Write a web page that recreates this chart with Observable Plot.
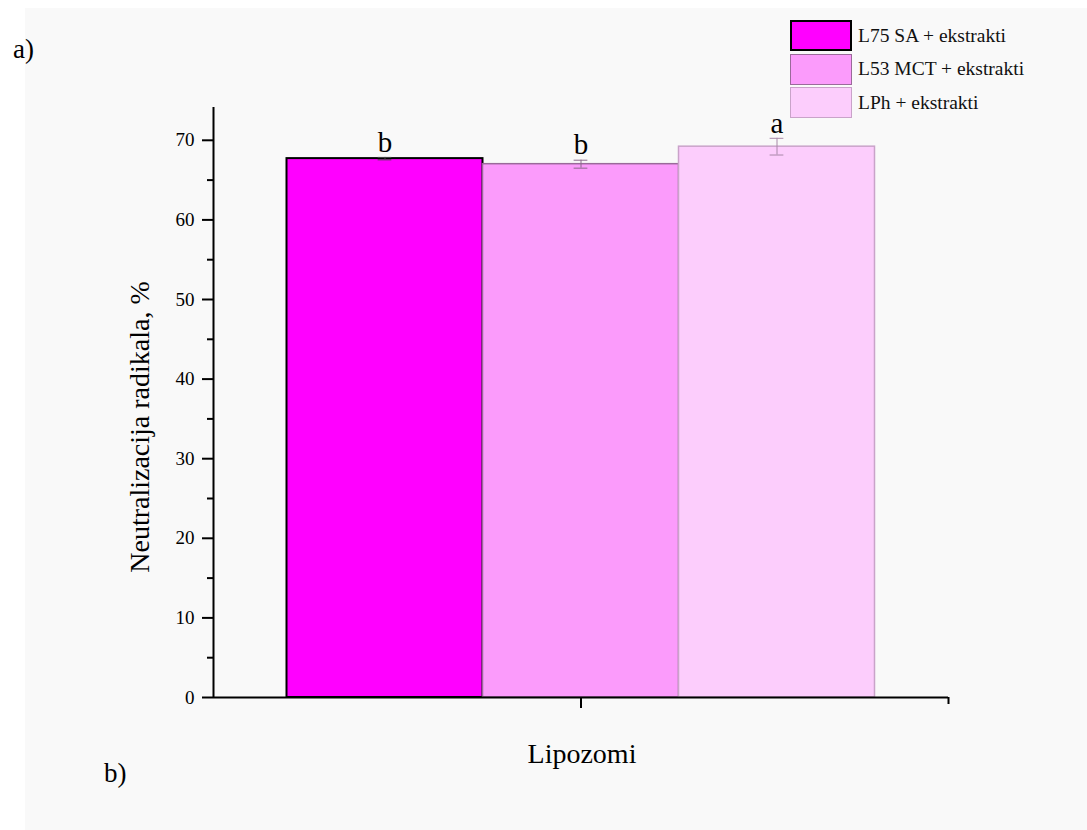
<!DOCTYPE html>
<html>
<head>
<meta charset="utf-8">
<script src="https://cdn.jsdelivr.net/npm/d3@7"></script>
<script src="https://cdn.jsdelivr.net/npm/@observablehq/plot@0.6"></script>
<style>
  html, body { margin: 0; padding: 0; background: #ffffff; }
  #page { position: relative; width: 1087px; height: 830px; overflow: hidden; font-family: "Liberation Serif", "DejaVu Serif", serif; }
  #bg { position: absolute; left: 25px; top: 8px; right: 0; bottom: 0; background: #f9f9f9; }
  #chart { position: absolute; left: 0; top: 0; }
  .panel { position: absolute; font-size: 27px; color: #000; }
  #legend { position: absolute; left: 790px; top: 19px; }
  .item { display: flex; align-items: center; height: 33.5px; }
  .sw { width: 62px; height: 31px; box-sizing: border-box; margin-right: 6px; }
  .lt { font-size: 19.5px; color: #111; }
</style>
</head>
<body>
<div id="page">
  <div id="bg"></div>
  <div id="chart"></div>
  <div class="panel" style="left:13px; top:34px;">a)</div>
  <div class="panel" style="left:104px; top:758px;">b)</div>
  <div id="legend"></div>
</div>
<script>
// ---- data ----
const series = ["L75 SA + ekstrakti", "L53 MCT + ekstrakti", "LPh + ekstrakti"];
const values = [67.7, 67.0, 69.2];
const errors = [0.15, 0.5, 1.05];
const letters = ["b", "b", "a"];
const fills = ["#ff00ff", "#fb9bfb", "#fccdfc"];
const strokes = ["#000000", "#9a6a9a", "#c9a3c9"];
const errColors = ["#444444", "#8a6a8a", "#a888a8"];
const yTicks = [0, 10, 20, 30, 40, 50, 60, 70];
const yMinorTicks = [5, 15, 25, 35, 45, 55, 65];
const xLabel = "Lipozomi";
const yLabel = "Neutralizacija radikala, %";

// ---- table ----
const data = series.map((s, i) => ({
  series: s, value: values[i], err: errors[i], letter: letters[i],
  x1: i - 1.5, x2: i - 0.5, xc: i - 1, fill: fills[i], stroke: strokes[i], ec: errColors[i]
}));
const xDomain = [-1.875, 1.875];
const capHalf = 0.035;

const chart = Plot.plot({
  width: 1087,
  height: 830,
  marginLeft: 213,
  marginRight: 139,
  marginTop: 100,
  marginBottom: 133,
  style: { background: "transparent", fontFamily: "Liberation Serif, serif", color: "#000" },
  x: { domain: xDomain, axis: null },
  y: { domain: [0, 75], axis: null },
  marks: [
    Plot.rectY(data, { x1: "x1", x2: "x2", y1: 0, y2: "value", fill: "fill", stroke: "stroke", strokeWidth: d => d.stroke === "#000000" ? 2 : 1.5 }),
    // error bars
    Plot.ruleX(data, { x: "xc", y1: d => d.value - d.err, y2: d => d.value + d.err, stroke: "ec", strokeWidth: 1 }),
    Plot.ruleY(data, { y: d => d.value + d.err, x1: d => d.xc - capHalf, x2: d => d.xc + capHalf, stroke: "ec", strokeWidth: 1 }),
    Plot.ruleY(data, { y: d => d.value - d.err, x1: d => d.xc - capHalf, x2: d => d.xc + capHalf, stroke: "ec", strokeWidth: 1 }),
    // letters
    Plot.text(data, { x: "xc", y: d => d.value + d.err, text: "letter", dy: -15, fontSize: 29, fill: "#000" }),
    // axes
    Plot.axisY({ ticks: yTicks, tickSize: 11, tickPadding: 8, fontSize: 19, strokeWidth: 2, tickFormat: d => String(d), label: null }),
    Plot.axisY({ ticks: yMinorTicks, tickSize: 6, tickFormat: () => "", strokeWidth: 2, label: null }),
    Plot.ruleX([xDomain[0]], { y1: 0, y2: 75, stroke: "#000", strokeWidth: 2, insetBottom: -7 }),
    Plot.ruleY([0], { stroke: "#000", strokeWidth: 2 }),
    Plot.axisX({ ticks: [0], tickSize: 11, tickFormat: () => "", strokeWidth: 2, label: null }),
    Plot.axisX({ ticks: [xDomain[1]], tickSize: 7, tickFormat: () => "", strokeWidth: 2, label: null })
  ]
});
document.getElementById("chart").appendChild(chart);

// axis titles as SVG text
const svg = d3.select(chart);
svg.append("text")
  .attr("x", 582).attr("y", 763)
  .attr("text-anchor", "middle")
  .attr("font-size", 28)
  .attr("font-family", "Liberation Serif, serif")
  .text(xLabel);
svg.append("text")
  .attr("transform", "translate(149,427) rotate(-90)")
  .attr("text-anchor", "middle")
  .attr("font-size", 28)
  .attr("font-family", "Liberation Serif, serif")
  .text(yLabel);

// legend
const lg = document.getElementById("legend");
series.forEach((s, i) => {
  const it = document.createElement("div");
  it.className = "item";
  const sw = document.createElement("div");
  sw.className = "sw";
  sw.style.background = fills[i];
  sw.style.border = (i === 0 ? 2 : 1.5) + "px solid " + strokes[i];
  const t = document.createElement("span");
  t.className = "lt";
  t.textContent = s;
  it.appendChild(sw); it.appendChild(t);
  lg.appendChild(it);
});
</script>
</body>
</html>
